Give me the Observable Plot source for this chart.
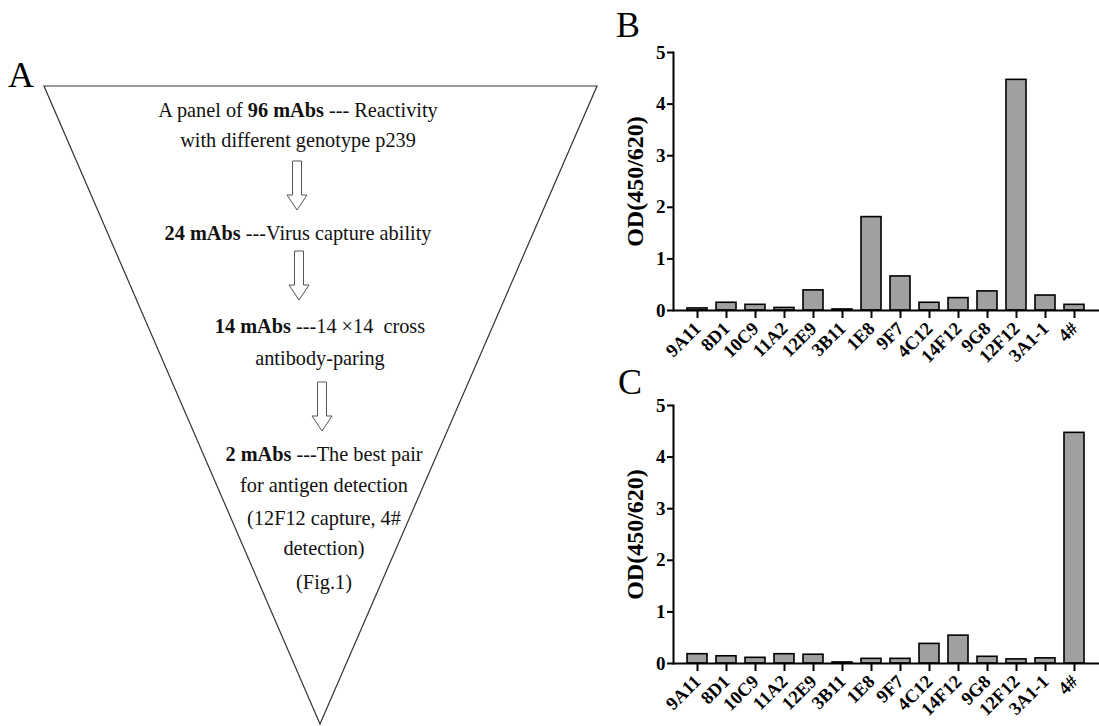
<!DOCTYPE html>
<html>
<head>
<meta charset="utf-8">
<script src="https://cdn.jsdelivr.net/npm/d3@7"></script>
<script src="https://cdn.jsdelivr.net/npm/@observablehq/plot@0.6"></script>
<style>
  html, body { margin: 0; padding: 0; background: white; }
  #wrap { position: relative; width: 1099px; height: 726px; overflow: hidden; font-family: "Liberation Serif", serif; }
  .panel-letter { position: absolute; font-family: "Liberation Serif", serif; font-size: 36px; line-height: 1; color: black; }
  .chart { position: absolute; }
  #panelA text { font-family: "Liberation Serif", serif; font-size: 20.3px; }
  .chart svg text { font-family: "Liberation Serif", serif; font-weight: bold; }
</style>
</head>
<body>
<div id="wrap">
  <svg id="panelA" width="620" height="726" style="position:absolute;left:0;top:0"></svg>
  <div class="panel-letter" style="left:8px;top:57px">A</div>
  <div class="panel-letter" style="left:616px;top:7px">B</div>
  <div class="panel-letter" style="left:618px;top:364px">C</div>
  <div class="chart" id="chartB" style="left:620px;top:40px"></div>
  <div class="chart" id="chartC" style="left:620px;top:393px"></div>
</div>
<script>
// ---- Data ----
const mabs = ["9A11", "8D1", "10C9", "11A2", "12E9", "3B11", "1E8", "9F7", "4C12", "14F12", "9G8", "12F12", "3A1-1", "4#"];
const odB = [0.04, 0.15, 0.11, 0.05, 0.39, 0.02, 1.81, 0.66, 0.15, 0.24, 0.37, 4.47, 0.29, 0.11];
const odC = [0.18, 0.14, 0.11, 0.18, 0.17, 0.02, 0.09, 0.09, 0.38, 0.54, 0.13, 0.08, 0.10, 4.47];
const yTicks = [0, 1, 2, 3, 4, 5];
const yLabel = "OD(450/620)";

// Panel A text: each line is a list of [text, bold] segments
const stageLines = [
  [["A panel of ", false], ["96 mAbs", true], [" --- Reactivity", false]],
  [["with different genotype p239", false]],
  [["24 mAbs", true], [" ---Virus capture ability", false]],
  [["14 mAbs", true], [" ---14 \u00D714  cross", false]],
  [["antibody-paring", false]],
  [["2 mAbs", true], [" ---The best pair", false]],
  [["for antigen detection", false]],
  [["(12F12 capture, 4#", false]],
  [["detection)", false]],
  [["(Fig.1)", false]]
];

// ---- Panel A (diagram) ----
(function drawA() {
  const svg = d3.select("#panelA");
  svg.append("path")
    .attr("d", "M44,86 L597,86 L320,724 Z")
    .attr("fill", "white").attr("stroke", "#333").attr("stroke-width", 1.2);
  const linePos = [[298,110],[298,140],[298,233],[320,326],[320,358],[324,454],[324,485],[324,518],[324,548],[324,582]];
  stageLines.forEach((segs, i) => {
    const t = svg.append("text")
      .attr("x", linePos[i][0]).attr("y", linePos[i][1]).attr("dy", "0.35em")
      .attr("text-anchor", "middle")
      .attr("fill", "#111")
      .style("white-space", "pre");
    segs.forEach(([s, b]) => t.append("tspan").style("font-weight", b ? "700" : "400").text(s));
  });
  const arrows = [[297,161],[299,251],[322,382]];
  arrows.forEach(([cx, y0]) => {
    const sw = 4.5, hw = 10, L = 49, hh = 15;
    const pts = [[cx-sw,y0],[cx+sw,y0],[cx+sw,y0+L-hh],[cx+hw,y0+L-hh],[cx,y0+L],[cx-hw,y0+L-hh],[cx-sw,y0+L-hh]];
    svg.append("polygon").attr("points", pts.map(p => p.join(",")).join(" "))
      .attr("fill", "white").attr("stroke", "#555").attr("stroke-width", 1);
  });
})();

// ---- Panels B and C (bar charts) ----
function barChart(values, height, marginBottom) {
  const data = mabs.map((m, i) => ({mab: m, od: values[i]}));
  return Plot.plot({
    width: 479,
    height: height,
    marginTop: 12,
    marginLeft: 53,
    marginRight: 0,
    marginBottom: marginBottom,
    style: {fontFamily: "'Liberation Serif', serif", background: "transparent", color: "black", overflow: "visible"},
    x: {domain: mabs, padding: 0.3, label: null},
    y: {domain: [0, 5], label: null},
    marks: [
      Plot.barY(data, {x: "mab", y: "od", fill: "#a0a0a0", stroke: "black", strokeWidth: 1.6}),
      Plot.ruleY([0], {stroke: "black", strokeWidth: 2}),
      Plot.frame({anchor: "left", stroke: "black", strokeWidth: 2}),
      Plot.axisX({tickRotate: -45, tickSize: 8, strokeWidth: 2, fontSize: 18.5, fontWeight: "bold", tickPadding: 7, label: null}),
      Plot.axisY({ticks: yTicks, tickFormat: d => String(d), tickSize: 6, strokeWidth: 2, fontSize: 19, fontWeight: "bold", tickPadding: 2, label: null}),
      Plot.text([yLabel], {text: d => d, frameAnchor: "left", textAnchor: "middle", rotate: -90, dx: -38, fontSize: 24, fontWeight: "bold", fill: "black"})
    ]
  });
}
document.getElementById("chartB").appendChild(barChart(odB, 320, 50));
document.getElementById("chartC").appendChild(barChart(odC, 330, 60));
</script>
</body>
</html>
